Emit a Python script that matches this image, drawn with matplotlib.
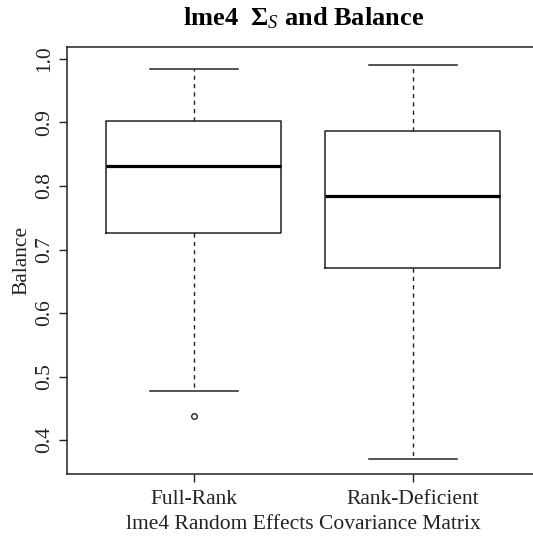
import matplotlib
matplotlib.use("Agg")
import matplotlib.pyplot as plt

categories = ["Full-Rank", "Rank-Deficient"]
whisker_low = [0.477, 0.370]
q1 = [0.726, 0.671]
medians = [0.8315, 0.785]
q3 = [0.903, 0.887]
whisker_high = [0.984, 0.990]
outliers = [[0.438], []]
yticks = [0.4, 0.5, 0.6, 0.7, 0.8, 0.9, 1.0]

plt.rcParams['font.family'] = ['Liberation Serif', 'DejaVu Serif']
plt.rcParams['mathtext.fontset'] = 'custom'
plt.rcParams['mathtext.rm'] = 'Liberation Serif'
plt.rcParams['mathtext.it'] = 'Liberation Serif:italic'
plt.rcParams['mathtext.bf'] = 'Liberation Serif:bold'

fig = plt.figure(figsize=(5.33, 5.54), dpi=100)
W, H = 533, 554
left_px, right_px, top_px, bottom_px = 66.7, 539.9, 47.3, 474.0
ax = fig.add_axes([left_px / W, (H - bottom_px) / H,
                   (right_px - left_px) / W, (bottom_px - top_px) / H])

stats = []
for i, c in enumerate(categories):
    stats.append(dict(label=c, whislo=whisker_low[i], q1=q1[i], med=medians[i],
                      q3=q3[i], whishi=whisker_high[i], fliers=outliers[i]))

lc = '#222222'
ax.bxp(stats, positions=[1, 2], widths=0.8, showfliers=True,
       boxprops=dict(color=lc, linewidth=1.1),
       medianprops=dict(color='black', linewidth=2.3, solid_capstyle='butt'),
       whiskerprops=dict(color=lc, linewidth=1.0, linestyle=(0, (3, 3))),
       capprops=dict(color=lc, linewidth=1.1),
       capwidths=0.4,
       flierprops=dict(marker='o', markersize=4, markerfacecolor='none',
                       markeredgecolor=lc, markeredgewidth=1.0))

ax.set_xlim(0.42, 2.58)
ax.set_ylim(0.3465, 1.0184)
ax.set_yticks(yticks)
ax.set_yticklabels([f"{v:.1f}" for v in yticks], rotation=90, va='center')
ax.set_xticks([1, 2])
ax.set_xticklabels(categories)
ax.tick_params(axis='both', labelsize=15.5, length=5.8, width=1.0, color=lc,
               colors='#222222')
ax.tick_params(axis='y', pad=3)
ax.tick_params(axis='x', pad=6)
for s in ax.spines.values():
    s.set_linewidth(1.1)
    s.set_color(lc)

ax.set_ylabel("Balance", fontsize=15.5, labelpad=3, color='#222222')
ax.set_xlabel("lme4 Random Effects Covariance Matrix", fontsize=15.5, labelpad=4,
              color='#222222')
fig.text(304 / W, 1 - 18 / H, r"lme4  $\mathbf{\Sigma}_{\mathit{S}}$ and Balance",
         ha='center', va='center', fontsize=19, fontweight='bold')

fig.savefig("out.png", dpi=100)
